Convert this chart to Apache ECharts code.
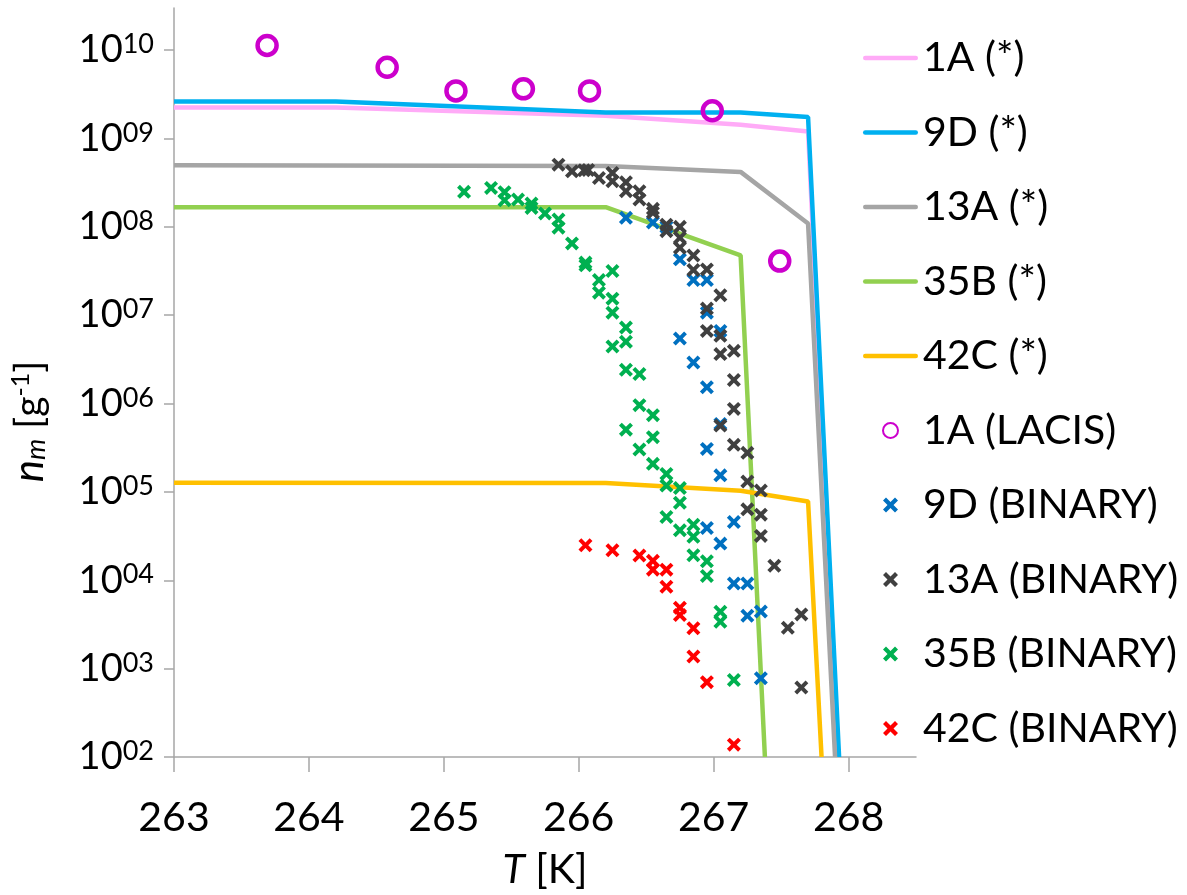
<!DOCTYPE html>
<html>
<head>
<meta charset="utf-8">
<script src="https://cdn.jsdelivr.net/npm/echarts@6/dist/echarts.min.js"></script>
<style>
  html, body { margin: 0; padding: 0; background: #fff; }
  #chart { width: 1187px; height: 895px; }
</style>
</head>
<body>
<div id="chart"></div>
<script>
const xTicks = [263, 264, 265, 266, 267, 268];
const yTicks = [1e2, 1e3, 1e4, 1e5, 1e6, 1e7, 1e8, 1e9, 1e10];

// model curves (*)
const line1A_T = [263, 264.2, 266.2, 267.2, 267.7, 267.92];
const line1A_n = [2.24e9, 2.24e9, 1.81e9, 1.43e9, 1.2e9, 100];
const line9D_T = [263, 264.2, 266.2, 267.2, 267.7, 267.93];
const line9D_n = [2.62e9, 2.62e9, 1.97e9, 1.97e9, 1.75e9, 100];
const line13A_T = [263, 266.2, 267.2, 267.7, 267.9];
const line13A_n = [4.97e8, 4.9e8, 4.19e8, 1.09e8, 100];
const line35B_T = [263, 266.2, 267.2, 267.38];
const line35B_n = [1.67e8, 1.67e8, 4.75e7, 100];
const line42C_T = [263, 266.2, 267.2, 267.7, 267.8];
const line42C_n = [1.27e5, 1.26e5, 1.03e5, 7.8e4, 100];

// LACIS measurements
const lacisT = [263.69, 264.58, 265.09, 265.59, 266.08, 266.99, 267.49];
const lacisN = [1.13e10, 6.4e9, 3.46e9, 3.65e9, 3.46e9, 2.06e9, 4.1e7];

// BINARY measurements
const bin9dT = [266.35, 266.55, 266.65, 266.75, 266.85, 266.95, 266.95, 267.05, 266.75, 266.85, 266.95,
  267.05, 266.95, 267.05, 266.95, 267.15, 267.05, 267.15, 267.25, 267.25, 267.35, 267.35];
const bin9dN = [1.27e8, 1.12e8, 9.97e7, 4.29e7, 2.5e7, 2.5e7, 1.07e7, 6.65e6, 5.46e6, 2.92e6, 1.53e6,
  5.89e5, 3.07e5, 1.54e5, 3.91e4, 4.57e4, 2.6e4, 9.2e3, 9.2e3, 3.97e3, 4.44e3, 780];

const bin13aT = [265.85, 265.95, 266.04, 266.07, 266.15, 266.25, 266.25, 266.35, 266.35, 266.45, 266.45,
  266.55, 266.55, 266.65, 266.65, 266.75, 266.75, 266.75, 266.85, 266.85, 266.95, 267.05, 266.95, 266.95,
  267.05, 267.05, 267.15, 267.15, 267.15, 267.05, 267.15, 267.25, 267.25, 267.35, 267.25, 267.35, 267.35,
  267.45, 267.65, 267.55, 267.65];
const bin13aN = [5.06e8, 4.25e8, 4.36e8, 4.4e8, 3.58e8, 4.08e8, 3.28e8, 3.2e8, 2.53e8, 2.53e8, 2.04e8,
  1.6e8, 1.45e8, 1.06e8, 8.94e7, 1.0e8, 7.53e7, 5.81e7, 4.75e7, 3.25e7, 3.3e7, 1.68e7, 1.19e7, 6.65e6,
  5.84e6, 3.63e6, 3.95e6, 1.85e6, 8.7e5, 5.63e5, 3.41e5, 2.77e5, 1.31e5, 1.04e5, 6.35e4, 5.53e4, 3.18e4,
  1.46e4, 4.11e3, 2.9e3, 612];

const bin35bT = [265.15, 265.35, 265.45, 265.45, 265.55, 265.65, 265.65, 265.75, 265.85, 265.85, 265.95,
  266.05, 266.05, 266.25, 266.15, 266.15, 266.25, 266.25, 266.35, 266.25, 266.35, 266.35, 266.45, 266.45,
  266.55, 266.35, 266.55, 266.45, 266.55, 266.65, 266.65, 266.75, 266.75, 266.65, 266.75, 266.85, 266.85,
  266.85, 266.95, 266.95, 267.05, 267.05, 267.15];
const bin35bN = [2.49e8, 2.76e8, 2.47e8, 2.0e8, 2.04e8, 1.84e8, 1.64e8, 1.42e8, 1.21e8, 9.8e7, 6.5e7,
  3.94e7, 3.67e7, 3.16e7, 2.5e7, 1.8e7, 1.54e7, 1.07e7, 7.26e6, 4.43e6, 5.0e6, 2.41e6, 2.16e6, 9.6e5,
  7.4e5, 5.07e5, 4.17e5, 3.02e5, 2.08e5, 1.6e5, 1.18e5, 1.11e5, 7.55e4, 5.21e4, 3.68e4, 4.26e4, 3.1e4,
  1.92e4, 1.64e4, 1.12e4, 4.41e3, 3.4e3, 745];

const bin42cT = [266.05, 266.25, 266.45, 266.55, 266.55, 266.65, 266.65, 266.75, 266.75, 266.85, 266.85,
  266.95, 267.15];
const bin42cN = [2.49e4, 2.19e4, 1.91e4, 1.66e4, 1.32e4, 1.32e4, 8.45e3, 4.89e3, 4.05e3, 2.86e3, 1.37e3,
  703, 138];

const FONT = 'Lato';
const crossPath = 'path://M0,2 L2,0 L5,3 L8,0 L10,2 L7,5 L10,8 L8,10 L5,7 L2,10 L0,8 L3,5 Z';
const lineIcon = 'path://M2,0 L53,0 A2,2 0 0 1 53,4.5 L2,4.5 A2,2 0 0 1 2,0 Z';

const zip = (a, b) => a.map((v, i) => [v, b[i]]);

const lineSeries = (name, T, n, color) => ({
  name, type: 'line', data: zip(T, n), symbol: 'none', z: 2,
  lineStyle: { color, width: 4.5 }, itemStyle: { color }
});
const crossSeries = (name, T, n, color) => ({
  name, type: 'scatter', data: zip(T, n), symbol: crossPath, symbolSize: 14, z: 3,
  itemStyle: { color, opacity: 1 }
});

const chart = echarts.init(document.getElementById('chart'));
chart.setOption({
  animation: false,
  backgroundColor: '#fff',
  grid: { left: 174, right: 271, top: 8, bottom: 136, containLabel: false },
  xAxis: {
    type: 'value', min: 263, max: 268.5, interval: 1,
    name: '{i|T} [K]', nameLocation: 'middle', nameGap: 92,
    nameTextStyle: {
      fontFamily: FONT, fontSize: 41, color: '#000',
      rich: { i: { fontFamily: FONT, fontSize: 41, fontStyle: 'italic', color: '#000' } }
    },
    axisLine: { lineStyle: { color: '#A6A6A6', width: 1.5 } },
    axisTick: { show: true, length: 15, inside: false, customValues: xTicks, lineStyle: { color: '#A6A6A6', width: 1.5 } },
    axisLabel: { customValues: xTicks, margin: 40, fontFamily: FONT, fontSize: 41, color: '#000' },
    splitLine: { show: false }
  },
  yAxis: {
    type: 'log', logBase: 10, min: 1e2, max: 3e10,
    name: '{i|n}{sub|m} [g{sup|-1}]', nameLocation: 'middle', nameGap: 124, nameRotate: 90,
    nameTextStyle: {
      fontFamily: FONT, fontSize: 39, color: '#000', padding: [0, 78, 0, 0],
      rich: {
        i: { fontFamily: FONT, fontSize: 42, fontStyle: 'italic', color: '#000' },
        sub: { fontFamily: FONT, fontSize: 27, fontStyle: 'italic', color: '#000', verticalAlign: 'bottom' },
        sup: { fontFamily: FONT, fontSize: 25, color: '#000', verticalAlign: 'top' }
      }
    },
    axisLine: { show: true, lineStyle: { color: '#A6A6A6', width: 1.5 } },
    axisTick: { show: true, length: 10, customValues: yTicks, lineStyle: { color: '#A6A6A6', width: 1.5 } },
    axisLabel: {
      customValues: yTicks, margin: 20,
      formatter: v => '{b|10}{s|' + String(Math.round(Math.log10(v))).padStart(2, '0') + '}',
      rich: {
        b: { fontFamily: FONT, fontSize: 38, color: '#000', lineHeight: 38 },
        s: { fontFamily: FONT, fontSize: 27, color: '#000', verticalAlign: 'top' }
      }
    },
    splitLine: { show: false },
    minorTick: { show: false }
  },
  legend: {
    orient: 'vertical', left: 858, top: 31, itemWidth: 55, itemHeight: 15, itemGap: 30.5,
    textStyle: { fontFamily: FONT, fontSize: 41, color: '#000', lineHeight: 44 },
    data: [
      { name: '1A (*)', icon: lineIcon },
      { name: '9D (*)', icon: lineIcon },
      { name: '13A (*)', icon: lineIcon },
      { name: '35B (*)', icon: lineIcon },
      { name: '42C (*)', icon: lineIcon },
      '1A (LACIS)', '9D (BINARY)', '13A (BINARY)', '35B (BINARY)', '42C (BINARY)'
    ]
  },
  series: [
    lineSeries('1A (*)', line1A_T, line1A_n, '#FFABF7'),
    lineSeries('9D (*)', line9D_T, line9D_n, '#00B0F0'),
    lineSeries('13A (*)', line13A_T, line13A_n, '#A5A5A5'),
    lineSeries('35B (*)', line35B_T, line35B_n, '#92D050'),
    lineSeries('42C (*)', line42C_T, line42C_n, '#FFC000'),
    {
      name: '1A (LACIS)', type: 'scatter', data: zip(lacisT, lacisN), symbol: 'circle', symbolSize: 19, z: 4,
      itemStyle: { color: 'rgba(255,255,255,0)', borderColor: '#CC00CC', borderWidth: 4.5, opacity: 1 }
    },
    crossSeries('9D (BINARY)', bin9dT, bin9dN, '#0070C0'),
    crossSeries('13A (BINARY)', bin13aT, bin13aN, '#404040'),
    crossSeries('35B (BINARY)', bin35bT, bin35bN, '#00B050'),
    crossSeries('42C (BINARY)', bin42cT, bin42cN, '#FF0000')
  ]
});
</script>
</body>
</html>
